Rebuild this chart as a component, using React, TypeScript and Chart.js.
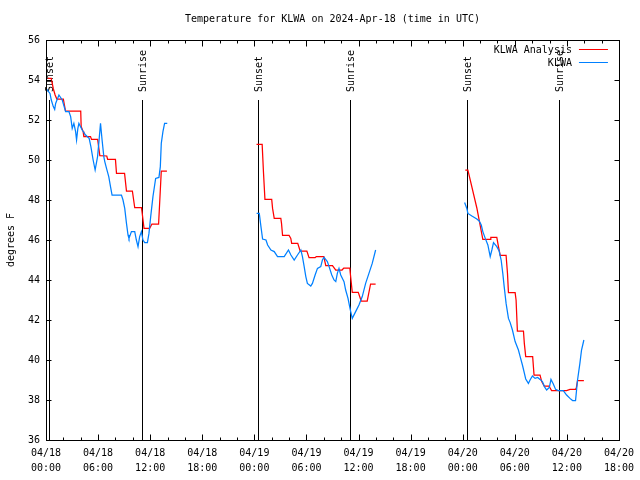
import { useEffect, useRef } from "react";
import { Chart, registerables } from "chart.js";

Chart.register(...registerables);

const TITLE = "Temperature for KLWA on 2024-Apr-18 (time in UTC)";
const Y_TITLE = "degrees F";
const SERIES_LABELS = ["KLWA Analysis", "KLWA"];
const SERIES_COLORS = ["#ff0000", "#0080ff"];
const FONT = '"DejaVu Sans Mono", monospace';

// Hours since 2024-04-18 00:00 UTC. A null temperature marks a gap.
const analysisHours = [
  0.2, 0.6, 0.85, 1.05, 1.25, 2.0, 2.1, 2.25, 4.0, 4.05, 4.28, 4.36, 5.13, 5.24, 5.95, 6.2, 7.0, 7.1, 8.0, 8.12,
  9.05, 9.27, 9.95, 10.22, 11.0, 11.06, 11.29, 11.94, 12.2, 12.97, 13.28, 13.93,
  18,
  24.25, 24.9, 25.05, 25.22, 26.0, 26.1, 26.29, 27.05, 27.13, 27.25, 28.0, 28.2, 28.3, 29.0, 29.28, 30.05, 30.3,
  31.0, 31.15, 32.0, 32.23, 33.0, 33.38, 34.1, 34.3, 35.0, 35.05, 35.28, 35.97, 36.31, 37.0, 37.39, 37.97,
  42,
  48.3, 48.6, 49.63, 50.32, 51.17, 51.24, 51.93, 52.12, 52.32, 53.0, 53.16, 53.27, 54.04, 54.15, 54.3, 55.0,
  55.1, 55.26, 56.06, 56.22, 56.91, 57.1, 57.4, 57.94, 58.24, 59.97, 60.36, 61.0, 61.1, 61.23, 61.96,
];
const analysisTemps = [
  54.08, 54.08, 53.55, 53.25, 53.05, 53.05, 52.8, 52.45, 52.45, 51.67, 51.42, 51.17, 51.17, 51.03, 51.03, 50.22, 50.2, 50.03, 50.03, 49.33,
  49.33, 48.45, 48.45, 47.62, 47.62, 47.42, 46.58, 46.58, 46.8, 46.8, 49.45, 49.45,
  null,
  50.78, 50.78, 49.4, 48.03, 48.03, 47.58, 47.08, 47.08, 46.83, 46.23, 46.23, 46.08, 45.83, 45.83, 45.45, 45.45, 45.12,
  45.12, 45.17, 45.17, 44.72, 44.72, 44.5, 44.5, 44.6, 44.6, 44.35, 43.38, 43.38, 42.95, 42.95, 43.8, 43.8,
  null,
  49.5, 49.5, 47.6, 46.03, 46.03, 46.13, 46.13, 45.67, 45.23, 45.23, 44.33, 43.37, 43.37, 43.0, 41.45, 41.45,
  40.83, 40.17, 40.17, 39.25, 39.25, 38.92, 38.7, 38.7, 38.47, 38.47, 38.53, 38.53, 38.63, 38.97, 38.97,
];

const obsHours = [
  0.05, 0.46, 0.61, 0.84, 1.0, 1.11, 1.49, 1.87, 2.26, 2.64, 2.84, 3.02, 3.21, 3.41, 3.52, 3.67, 3.79, 4.17,
  4.56, 4.97, 5.17, 5.43, 5.66, 5.94, 6.08, 6.28, 6.46, 6.66, 6.77, 6.97, 7.23, 7.43, 7.61, 8.69, 8.87, 9.07,
  9.27, 9.45, 9.56, 9.84, 10.22, 10.41, 10.6, 10.79, 10.99, 11.17, 11.37, 11.68, 11.86, 12.06, 12.32, 12.63,
  13.01, 13.17, 13.28, 13.47, 13.66, 13.97,
  18,
  24.26, 24.57, 24.76, 24.95, 25.34, 25.53, 25.91, 26.29, 26.67, 27.44, 27.93, 28.21, 28.59, 28.97, 29.36,
  29.54, 29.74, 29.93, 30.11, 30.5, 30.69, 31.0, 31.27, 31.65, 31.84, 32.03, 32.41, 32.61, 32.92, 33.18, 33.38,
  33.56, 33.75, 33.95, 34.33, 34.52, 34.79, 34.98, 35.1, 35.28, 35.67, 36.05, 36.43, 36.82, 37.2, 37.58, 37.97,
  42,
  48.22, 48.48, 48.6, 49.06, 49.63, 49.9, 50.14, 50.32, 50.6, 50.9, 51.17, 51.36, 51.55, 51.93, 52.2, 52.43,
  52.62, 52.78, 53.0, 53.27, 53.47, 53.73, 54.04, 54.42, 54.62, 54.88, 55.11, 55.26, 55.57, 55.76, 56.03,
  56.34, 56.64, 56.91, 57.18, 57.41, 57.67, 57.98, 58.17, 58.44, 58.7, 59.01, 59.59, 59.97, 60.36, 60.66,
  61.0, 61.23, 61.5, 61.69, 61.96,
];
const obsTemps = [
  53.55, 53.33, 53.0, 52.67, 52.53, 52.83, 53.25, 53.0, 52.42, 52.42, 52.17, 51.58, 51.83, 51.42, 51.0, 51.58, 51.83, 51.5,
  51.25, 51.08, 50.67, 50.0, 49.5, 50.17, 50.83, 51.83, 51.0, 50.17, 49.92, 49.58, 49.17, 48.67, 48.25, 48.25, 48.0, 47.58,
  46.83, 46.25, 46.08, 46.42, 46.42, 46.0, 45.67, 46.17, 46.42, 46.0, 45.87, 45.87, 46.33, 47.17, 48.17, 49.08,
  49.13, 49.67, 50.83, 51.42, 51.83, 51.83,
  null,
  47.33, 47.33, 46.67, 46.05, 46.0, 45.75, 45.5, 45.42, 45.17, 45.17, 45.5, 45.25, 45.0, 45.25, 45.5,
  45.17, 44.67, 44.17, 43.83, 43.7, 43.83, 44.25, 44.58, 44.67, 45.0, 45.13, 44.92, 44.67, 44.25, 44.0, 43.92,
  44.33, 44.58, 44.25, 43.92, 43.5, 43.08, 42.67, 42.42, 42.08, 42.42, 42.75, 43.17, 43.83, 44.33, 44.83, 45.5,
  null,
  47.87, 47.58, 47.33, 47.2, 47.05, 46.95, 46.75, 46.42, 46.08, 45.75, 45.17, 45.5, 45.87, 45.67, 45.45, 45.0,
  44.33, 43.67, 42.83, 42.08, 41.87, 41.5, 40.92, 40.5, 40.17, 39.75, 39.33, 39.05, 38.83, 39.0, 39.2,
  39.08, 39.13, 39.03, 38.92, 38.67, 38.5, 38.63, 39.03, 38.8, 38.53, 38.47, 38.47, 38.25, 38.08, 37.97,
  37.97, 39.0, 39.83, 40.5, 41.0,
];

const sunHours = [0.4, 11.06, 24.46, 35.03, 48.47, 59.04];
const sunLabels = ["Sunset", "Sunrise", "Sunset", "Sunrise", "Sunset", "Sunrise"];

const xTickDates = ["04/18", "04/18", "04/18", "04/18", "04/19", "04/19", "04/19", "04/19", "04/20", "04/20", "04/20", "04/20"];
const xTickTimes = ["00:00", "06:00", "12:00", "18:00", "00:00", "06:00", "12:00", "18:00", "00:00", "06:00", "12:00", "18:00"];

const X_MIN = 0;
const X_MAX = 66;
const X_MAJOR = 6;
const X_MINOR = 2;
const Y_MIN = 36;
const Y_MAX = 56;
const Y_STEP = 2;
const SUN_LINE_TOP = 53;

const toPoints = (xs: number[], ys: (number | null)[]) => xs.map((x, i) => ({ x, y: ys[i] }));

const decor = {
  id: "decor",
  beforeDatasetsDraw(chart: any) {
    const { ctx, chartArea: a, scales } = chart;
    const x = scales.x;
    const y = scales.y;
    ctx.save();
    ctx.strokeStyle = "#000";
    ctx.lineWidth = 1;
    ctx.fillStyle = "#000";
    ctx.font = `10px ${FONT}`;
    const topY = y.getPixelForValue(SUN_LINE_TOP);
    const B = Math.round(a.bottom) + 0.5;
    sunHours.forEach((h, i) => {
      const px = Math.round(x.getPixelForValue(h)) + 0.5;
      ctx.beginPath();
      ctx.moveTo(px, B);
      ctx.lineTo(px, Math.round(topY));
      ctx.stroke();
      ctx.save();
      ctx.translate(px + 1, topY - 8);
      ctx.rotate(-Math.PI / 2);
      ctx.textAlign = "left";
      ctx.textBaseline = "middle";
      ctx.fillText(sunLabels[i], 0, 0);
      ctx.restore();
    });
    ctx.restore();
  },
  afterDraw(chart: any) {
    const { ctx, chartArea: a, scales } = chart;
    const x = scales.x;
    const y = scales.y;
    ctx.save();
    ctx.strokeStyle = "#000";
    ctx.lineWidth = 1;
    const L = Math.round(a.left) + 0.5;
    const R = Math.round(a.right) + 0.5;
    const T = Math.round(a.top) + 0.5;
    const B = Math.round(a.bottom) + 0.5;
    ctx.strokeRect(L, T, R - L, B - T);
    const seg = (x1: number, y1: number, x2: number, y2: number) => {
      ctx.beginPath();
      ctx.moveTo(x1, y1);
      ctx.lineTo(x2, y2);
      ctx.stroke();
    };
    for (let h = X_MIN; h <= X_MAX; h += X_MINOR) {
      const len = h % X_MAJOR === 0 ? 6 : 3;
      const px = Math.round(x.getPixelForValue(h)) + 0.5;
      seg(px, B, px, B - len);
      seg(px, T, px, T + len);
    }
    for (let v = Y_MIN; v <= Y_MAX; v += Y_STEP) {
      const py = Math.round(y.getPixelForValue(v)) + 0.5;
      seg(L, py, L + 5, py);
      seg(R, py, R - 5, py);
    }
    ctx.fillStyle = "#000";
    ctx.font = `10px ${FONT}`;
    ctx.textAlign = "center";
    ctx.textBaseline = "middle";
    ctx.fillText(TITLE, (a.left + a.right) / 2, 19);
    ctx.save();
    ctx.translate(11, (a.top + a.bottom) / 2);
    ctx.rotate(-Math.PI / 2);
    ctx.fillText(Y_TITLE, 0, 0);
    ctx.restore();
    ctx.textAlign = "right";
    SERIES_LABELS.forEach((lab, i) => {
      const ly = a.top + 10 + i * 13;
      ctx.fillStyle = "#000";
      ctx.fillText(lab, a.right - 47, ly);
      ctx.strokeStyle = SERIES_COLORS[i];
      seg(a.right - 40, Math.round(ly) - 0.5, a.right - 11, Math.round(ly) - 0.5);
    });
    ctx.restore();
  },
};

export default function App() {
  const ref = useRef<HTMLCanvasElement>(null);
  useEffect(() => {
    const chart = new Chart(ref.current!, {
      type: "line",
      data: {
        datasets: [
          {
            label: SERIES_LABELS[0],
            data: toPoints(analysisHours, analysisTemps),
            borderColor: SERIES_COLORS[0],
            backgroundColor: SERIES_COLORS[0],
            borderWidth: 1.25,
            pointRadius: 0,
            spanGaps: false,
            order: 1,
          },
          {
            label: SERIES_LABELS[1],
            data: toPoints(obsHours, obsTemps),
            borderColor: SERIES_COLORS[1],
            backgroundColor: SERIES_COLORS[1],
            borderWidth: 1.25,
            pointRadius: 0,
            spanGaps: false,
            order: 0,
          },
        ],
      },
      options: {
        animation: false,
        responsive: false,
        maintainAspectRatio: false,
        layout: { padding: { top: 40, right: 19, left: 0, bottom: 0 } },
        plugins: { legend: { display: false }, title: { display: false }, tooltip: { enabled: false } },
        scales: {
          x: {
            type: "linear",
            min: X_MIN,
            max: X_MAX,
            grid: { display: false, drawTicks: false },
            border: { display: false },
            ticks: {
              stepSize: X_MAJOR,
              autoSkip: false,
              maxRotation: 0,
              padding: 6,
              color: "#000",
              font: { family: FONT, size: 10, lineHeight: 1.5 },
              callback: (v: any) => {
                const i = Math.round(Number(v) / X_MAJOR);
                return [xTickDates[i], xTickTimes[i]];
              },
            },
            afterFit: (s: any) => {
              s.height = 40;
            },
          },
          y: {
            min: Y_MIN,
            max: Y_MAX,
            grid: { display: false, drawTicks: false },
            border: { display: false },
            ticks: {
              stepSize: Y_STEP,
              padding: 6,
              color: "#000",
              font: { family: FONT, size: 10 },
            },
            afterFit: (s: any) => {
              s.width = 46;
            },
          },
        },
      },
      plugins: [decor],
    });
    return () => chart.destroy();
  }, []);
  return (
    <div style={{ position: "absolute", left: 0, top: 0, width: 640, height: 480, background: "#fff" }}>
      <canvas ref={ref} width={640} height={480} style={{ display: "block", width: 640, height: 480 }} />
    </div>
  );
}
